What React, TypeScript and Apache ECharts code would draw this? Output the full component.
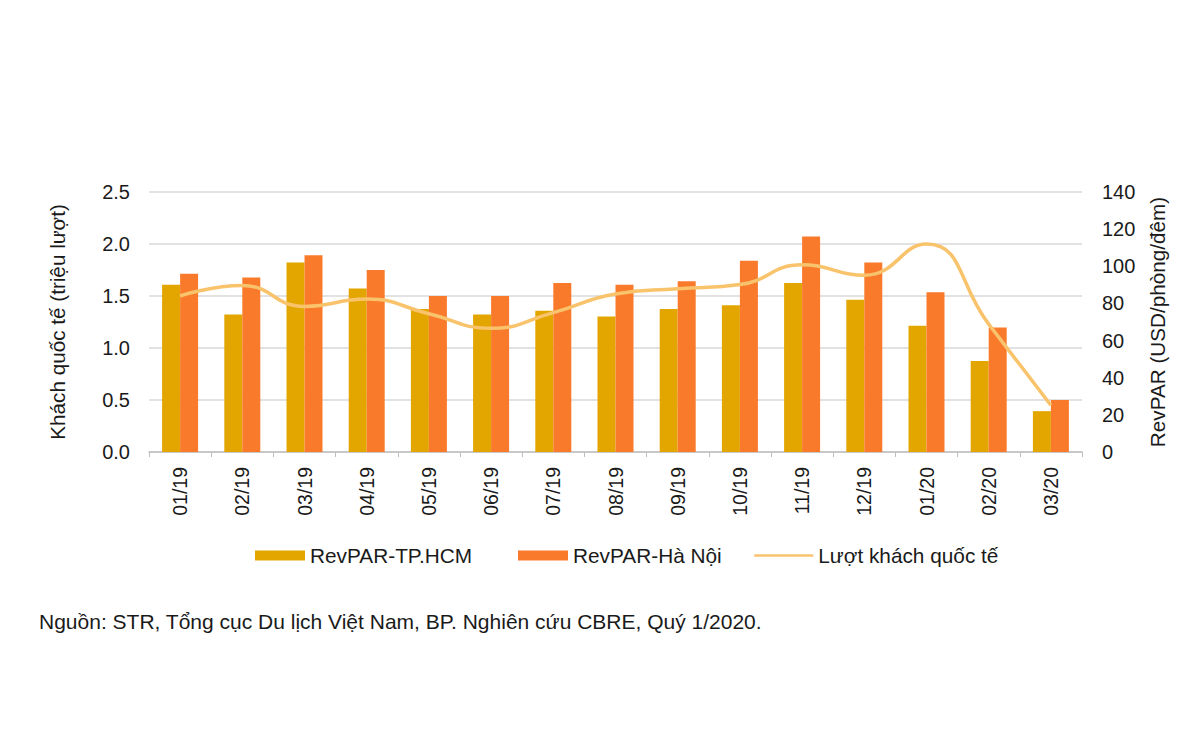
import React, { useEffect, useRef } from "react";
import * as echarts from "echarts";

const categories = ["01/19", "02/19", "03/19", "04/19", "05/19", "06/19", "07/19", "08/19", "09/19", "10/19", "11/19", "12/19", "01/20", "02/20", "03/20"];
const revparHCM = [90, 74, 102, 88, 77, 74, 76, 73, 77, 79, 91, 82, 68, 49, 22];
const revparHN = [96, 94, 106, 98, 84, 84, 91, 90, 92, 103, 116, 102, 86, 67, 28];
const arrivals = [1.5, 1.6, 1.4, 1.47, 1.33, 1.19, 1.34, 1.52, 1.57, 1.61, 1.8, 1.7, 2.0, 1.23, 0.45];

const FONT = "Arial, 'Liberation Sans', sans-serif";
const TXT = "#1a1a1a";
const C_HCM = "#E3A600";
const C_HN = "#FA7A2C";
const C_LINE = "#F9C36C";

export default function App() {
  const ref = useRef<HTMLDivElement>(null);
  useEffect(() => {
    if (!ref.current) return;
    const chart = echarts.init(ref.current, undefined, { renderer: "svg" });
    const legendBase = {
      top: 540,
      itemHeight: 10,
      itemGap: 7,
      textStyle: { fontFamily: FONT, fontSize: 20.8, color: TXT, padding: [0, 0, 0, 0] },
    };
    chart.setOption({
      animation: false,
      backgroundColor: "#ffffff",
      textStyle: { fontFamily: FONT },
      grid: { left: 149, right: 118, top: 192, bottom: 298 },
      legend: [
        { ...legendBase, left: 250, itemWidth: 50, data: [{ name: "RevPAR-TP.HCM", icon: "rect" }] },
        { ...legendBase, left: 513, itemWidth: 50, data: [{ name: "RevPAR-Hà Nội", icon: "rect" }] },
        {
          ...legendBase,
          left: 748,
          itemWidth: 59,
          data: [
            {
              name: "Lượt khách quốc tế",
              itemStyle: { opacity: 0, color: "rgba(0,0,0,0)", borderWidth: 0 },
              lineStyle: { width: 2.5, color: C_LINE },
            },
          ],
        },
      ],
      xAxis: {
        type: "category",
        data: categories,
        axisLine: { lineStyle: { color: "#BFBFBF", width: 1.5 } },
        axisTick: { show: true, length: 5, lineStyle: { color: "#BFBFBF" } },
        axisLabel: { rotate: 90, margin: 15, fontFamily: FONT, fontSize: 19.5, color: TXT },
      },
      yAxis: [
        {
          type: "value",
          min: 0,
          max: 2.5,
          interval: 0.5,
          name: "Khách quốc tế (triệu lượt)",
          nameLocation: "middle",
          nameRotate: 90,
          nameGap: 81,
          nameTextStyle: { fontFamily: FONT, fontSize: 20.7, color: TXT },
          axisLine: { show: false },
          axisTick: { show: false },
          splitLine: { lineStyle: { color: "#D9D9D9", width: 1.5 } },
          axisLabel: { margin: 19, fontFamily: FONT, fontSize: 20, color: TXT, formatter: (v: number) => v.toFixed(1) },
        },
        {
          type: "value",
          min: 0,
          max: 140,
          interval: 20,
          name: "RevPAR (USD/phòng/đêm)",
          nameLocation: "middle",
          nameRotate: 90,
          nameGap: 65,
          nameTextStyle: { fontFamily: FONT, fontSize: 20.7, color: TXT },
          axisLine: { show: false },
          axisTick: { show: false },
          splitLine: { show: false },
          axisLabel: { margin: 20, fontFamily: FONT, fontSize: 20, color: TXT },
        },
      ],
      series: [
        {
          name: "RevPAR-TP.HCM",
          type: "bar",
          yAxisIndex: 1,
          data: revparHCM,
          barWidth: 18,
          barGap: "0%",
          itemStyle: { color: C_HCM },
        },
        {
          name: "RevPAR-Hà Nội",
          type: "bar",
          yAxisIndex: 1,
          data: revparHN,
          barWidth: 18,
          barGap: "0%",
          itemStyle: { color: C_HN },
        },
        {
          name: "Lượt khách quốc tế",
          type: "line",
          yAxisIndex: 0,
          data: arrivals,
          smooth: 0.5,
          symbol: "none",
          lineStyle: { color: C_LINE, width: 3.5 },
          itemStyle: { color: C_LINE },
        },
      ],
      graphic: [
        {
          type: "text",
          left: 39,
          top: 611,
          style: {
            text: "Nguồn: STR, Tổng cục Du lịch Việt Nam, BP. Nghiên cứu CBRE, Quý 1/2020.",
            font: `21px ${FONT}`,
            fill: TXT,
          },
        },
      ],
    });
    return () => chart.dispose();
  }, []);
  return <div ref={ref} style={{ width: 1200, height: 750, margin: -8 }} />;
}
